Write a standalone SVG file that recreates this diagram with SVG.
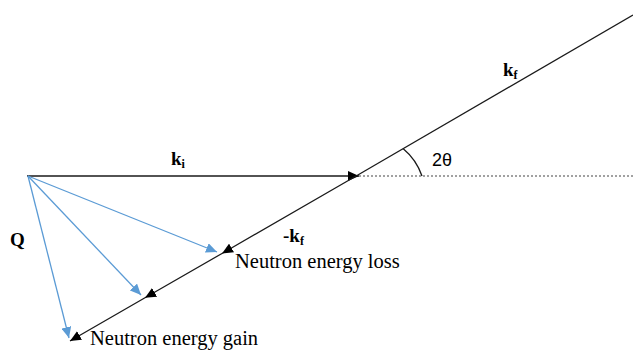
<svg xmlns="http://www.w3.org/2000/svg" width="633" height="351" viewBox="0 0 633 351">
<style>
.ln{stroke:#1a1a1a;stroke-width:1.3;fill:none}
.bl{stroke:#5b9bd5;stroke-width:1.3;fill:none}
.b{font-family:"Liberation Serif",serif;font-weight:bold;font-size:19px;fill:#000}
.t{font-family:"Liberation Serif",serif;font-size:20.5px;fill:#000}
.s{font-family:"Liberation Sans",sans-serif;font-size:18px;fill:#000}
</style>
<defs>
<marker id="ah" markerUnits="userSpaceOnUse" markerWidth="12" markerHeight="10" refX="11" refY="5" orient="auto" viewBox="0 0 12 10">
<path d="M0,0 L11,5 L0,10 Z" fill="#000"/>
</marker>
<marker id="ahb" markerUnits="userSpaceOnUse" markerWidth="12" markerHeight="10" refX="11" refY="5" orient="auto" viewBox="0 0 12 10">
<path d="M0,0 L11,5 L0,10 Z" fill="#5b9bd5"/>
</marker>
</defs>
<rect width="633" height="351" fill="#fff"/>
<g id="connectors">
<line class="ln" x1="27" y1="176" x2="359" y2="176" marker-end="url(#ah)"/>
<line x1="359" y1="176" x2="633" y2="176" stroke="#444" stroke-width="1.2" stroke-dasharray="2,2"/>
<line class="ln" x1="357" y1="175.5" x2="633" y2="15"/>
<polyline class="ln" points="357,175.5 222,253.5 145,297.8 70,341" marker-mid="url(#ah)" marker-end="url(#ah)"/>
<line class="bl" x1="28" y1="176" x2="217" y2="252" marker-end="url(#ahb)"/>
<line class="bl" x1="28" y1="176" x2="141" y2="295" marker-end="url(#ahb)"/>
<line class="bl" x1="28" y1="176" x2="69" y2="338" marker-end="url(#ahb)"/>
<path class="ln" d="M403,148.5 A62,62 0 0 1 422,176"/>
</g>
<g id="label-ki"><text class="b" x="171" y="165">k<tspan font-size="12" dy="3">i</tspan></text></g>
<g id="label-kf"><text class="b" x="503" y="76">k<tspan font-size="12" dy="3">f</tspan></text></g>
<g id="label-mkf"><text class="b" x="283" y="242">-k<tspan font-size="12" dy="3">f</tspan></text></g>
<g id="label-angle"><text class="s" x="432" y="166">2θ</text></g>
<g id="label-Q"><text class="b" x="10" y="246" font-size="21">Q</text></g>
<g id="label-loss"><text class="t" x="235" y="268">Neutron energy loss</text></g>
<g id="label-gain"><text class="t" x="90" y="345">Neutron energy gain</text></g>
</svg>
